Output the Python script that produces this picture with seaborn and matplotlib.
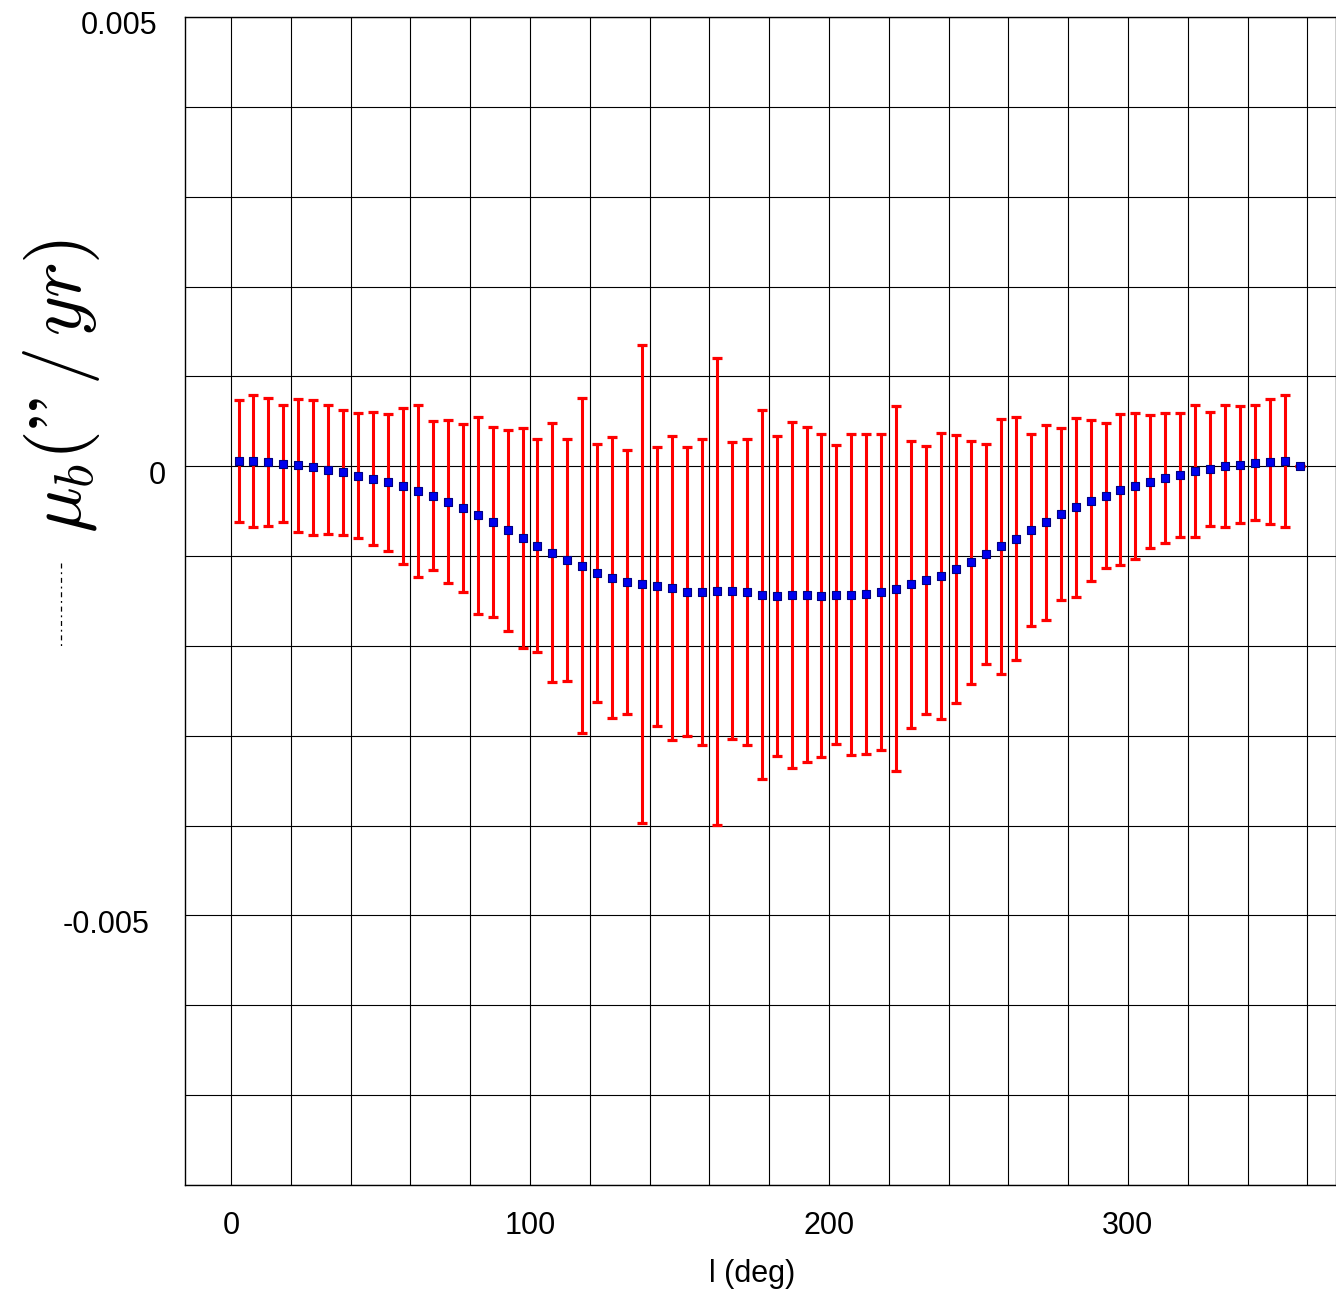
import numpy as np
import matplotlib
matplotlib.use("Agg")
import matplotlib.pyplot as plt
from matplotlib.ticker import MultipleLocator, FixedLocator, FixedFormatter
from matplotlib.lines import Line2D
from matplotlib.transforms import ScaledTranslation
import seaborn as sns

# ---------------- data (mu_b and its error in units of 1e-3 "/yr) ----------------
l_deg = [2.5, 7.5, 12.5, 17.5, 22.5, 27.5, 32.5, 37.5, 42.5, 47.5, 52.5, 57.5,
         62.5, 67.5, 72.5, 77.5, 82.5, 87.5, 92.5, 97.5, 102.5, 107.5, 112.5, 117.5,
         122.5, 127.5, 132.5, 137.5, 142.5, 147.5, 152.5, 157.5, 162.5, 167.5, 172.5, 177.5,
         182.5, 187.5, 192.5, 197.5, 202.5, 207.5, 212.5, 217.5, 222.5, 227.5, 232.5, 237.5,
         242.5, 247.5, 252.5, 257.5, 262.5, 267.5, 272.5, 277.5, 282.5, 287.5, 292.5, 297.5,
         302.5, 307.5, 312.5, 317.5, 322.5, 327.5, 332.5, 337.5, 342.5, 347.5, 352.5, 357.5]

mu_b_milli = [0.059, 0.056, 0.048, 0.030, 0.011, -0.011, -0.037, -0.067, -0.104, -0.137, -0.181, -0.222,
              -0.274, -0.330, -0.393, -0.467, -0.548, -0.619, -0.711, -0.800, -0.885, -0.963, -1.044, -1.106,
              -1.186, -1.242, -1.290, -1.316, -1.338, -1.357, -1.398, -1.398, -1.394, -1.387, -1.398, -1.428,
              -1.439, -1.435, -1.428, -1.439, -1.428, -1.428, -1.420, -1.401, -1.361, -1.316, -1.268, -1.223,
              -1.145, -1.070, -0.978, -0.893, -0.807, -0.711, -0.626, -0.533, -0.456, -0.385, -0.326, -0.259,
              -0.219, -0.170, -0.130, -0.100, -0.056, -0.026, 0.000, 0.019, 0.041, 0.052, 0.056, 0.000]

err_milli = [0.680, 0.737, 0.710, 0.654, 0.741, 0.752, 0.722, 0.697, 0.700, 0.744, 0.758, 0.870,
             0.956, 0.828, 0.910, 0.936, 1.097, 1.056, 1.119, 1.221, 1.184, 1.441, 1.347, 1.865,
             1.437, 1.562, 1.472, 2.660, 1.552, 1.695, 1.610, 1.703, 2.601, 1.653, 1.703, 2.058,
             1.781, 1.928, 1.865, 1.798, 1.660, 1.783, 1.784, 1.762, 2.028, 1.593, 1.495, 1.591,
             1.491, 1.352, 1.221, 1.415, 1.354, 1.065, 1.087, 0.961, 0.995, 0.896, 0.810, 0.836,
             0.813, 0.743, 0.726, 0.687, 0.734, 0.634, 0.678, 0.652, 0.641, 0.693, 0.735, 0.000]

x_ticks = [0, 100, 200, 300]
x_tick_labels = ["0", "100", "200", "300"]
y_ticks = [-0.005, 0.0, 0.005]
y_tick_labels = ["-0.005", "0", "0.005"]

x_label = "l (deg)"
y_label = r"$\mu_b(\mathrm{”}\,/\,yr)$"

# ---------------- styling ----------------
sns.set_theme(style="white")
plt.rcParams["font.family"] = ["Liberation Sans", "DejaVu Sans"]
plt.rcParams["mathtext.fontset"] = "cm"

mu = np.array(mu_b_milli) * 1e-3
err = np.array(err_milli) * 1e-3

W, H = 1336, 1290
fig = plt.figure(figsize=(W / 100, H / 100), dpi=100)
ax = fig.add_axes([185 / W, 1 - 1185 / H, 1151 / W, 1168 / H])

ax.errorbar(l_deg, mu, yerr=err, fmt="none", ecolor="#ff0000",
            elinewidth=2.2, capsize=3.5, capthick=2.3, zorder=3)
sns.scatterplot(x=l_deg, y=mu, marker="s", s=28, color="#0000ee",
                edgecolor="#000080", linewidth=0.8, ax=ax, zorder=4, legend=False)

ax.set_xlim(-15.4, 369.6)
ax.set_ylim(-0.008, 0.005)

ax.xaxis.set_major_locator(FixedLocator(x_ticks))
ax.xaxis.set_major_formatter(FixedFormatter(x_tick_labels))
ax.xaxis.set_minor_locator(MultipleLocator(20))
ax.yaxis.set_major_locator(FixedLocator(y_ticks))
ax.yaxis.set_major_formatter(FixedFormatter(y_tick_labels))
ax.yaxis.set_minor_locator(MultipleLocator(0.001))

ax.grid(which="both", color="black", linewidth=0.8, zorder=0)
ax.set_axisbelow(True)
ax.tick_params(axis="both", which="both", length=0, labelsize=22, colors="black")
ax.tick_params(axis="x", pad=19)
ax.tick_params(axis="y", pad=20)

for sp in ax.spines.values():
    sp.set_color("black")
    sp.set_linewidth(1.0)

ax.set_xlabel(x_label, fontsize=22, color="black")
ax.xaxis.set_label_coords((752 - 185) / 1151, (1185 - 1274) / 1168)
ax.xaxis.label.set_va("center")

ax.set_ylabel(y_label, fontsize=55, color="black")
ax.yaxis.set_label_coords((61 - 185) / 1151, (1185 - 386) / 1168)
ax.yaxis.label.set_va("center")

# small dashed stroke to the left of the axis (present in the original figure)
fig.add_artist(Line2D([61 / W, 61 / W], [1 - 563 / H, 1 - 647 / H],
                      transform=fig.transFigure, color="black", linewidth=0.9,
                      linestyle=(0, (4, 3, 1.5, 3))))

# individual nudges of the y tick labels, as in the original (pixels)
fig.canvas.draw()
label_nudge = {"-0.005": (-8, -6), "0": (9, -6), "0.005": (0, -6)}
for tick in ax.yaxis.get_major_ticks():
    txt = tick.label1
    dx, dy = label_nudge.get(txt.get_text(), (0, -6))
    txt.set_transform(txt.get_transform() + ScaledTranslation(dx / 100, dy / 100, fig.dpi_scale_trans))

fig.savefig("out.png", dpi=100)
